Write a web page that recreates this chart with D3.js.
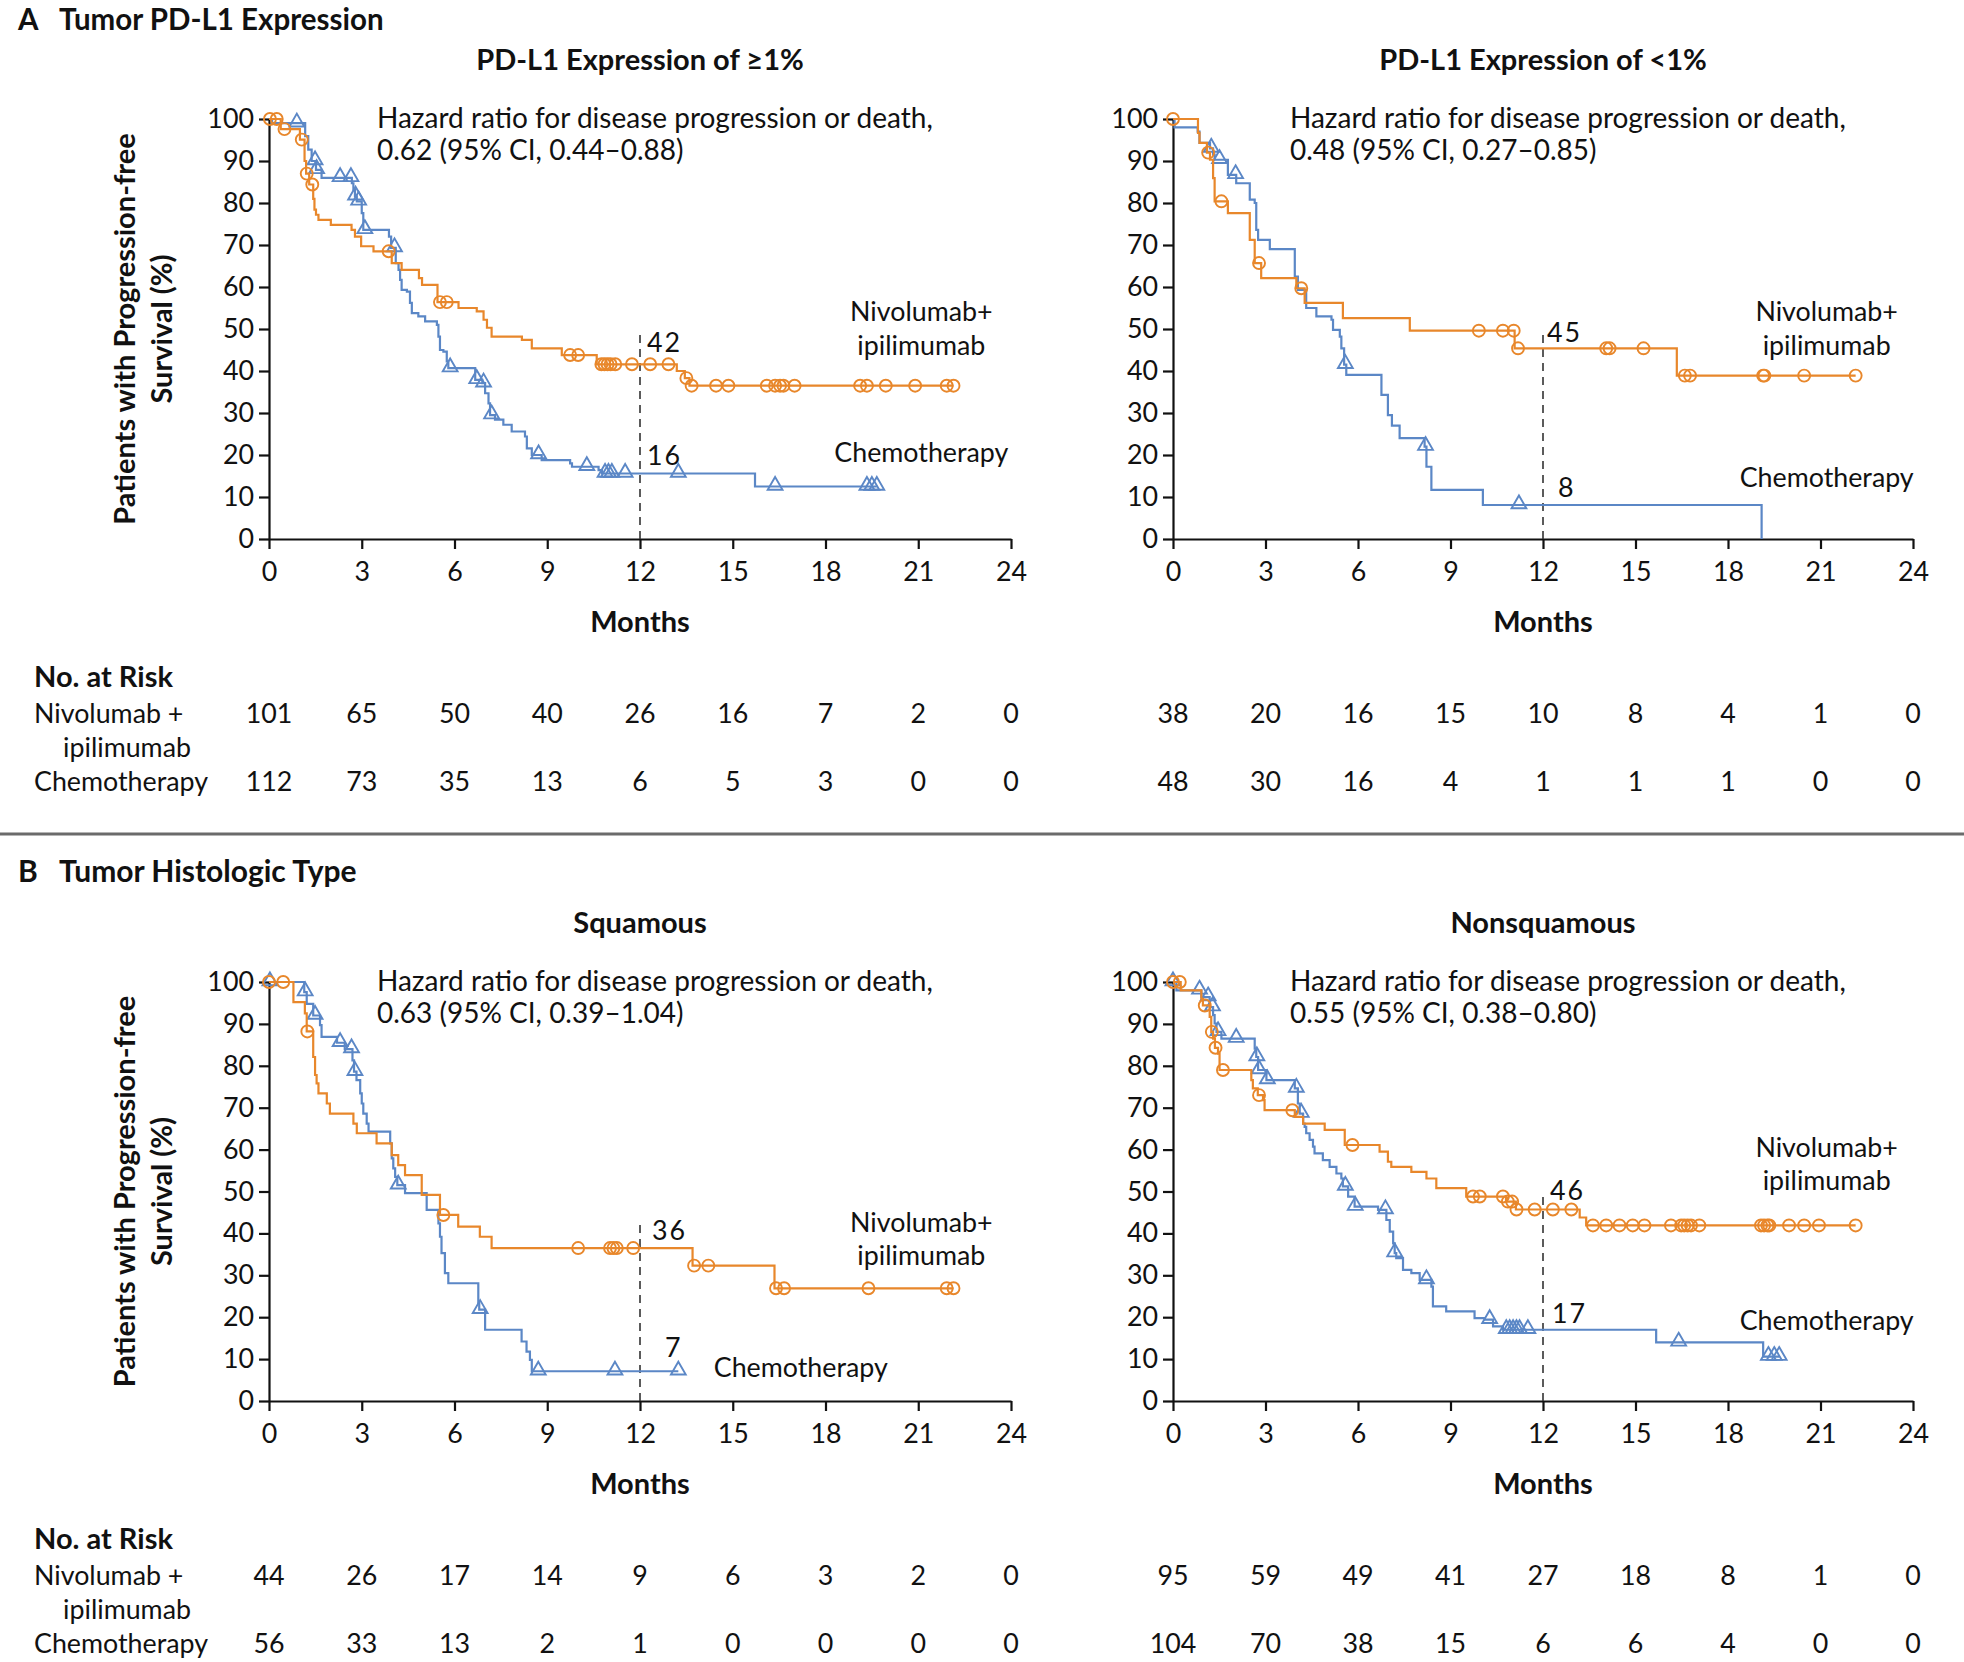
<!DOCTYPE html>
<html><head><meta charset="utf-8">
<script src="https://cdn.jsdelivr.net/npm/d3@7"></script>
<style>
body{margin:0;background:#fff}
text{font-family:Lato,'Open Sans',sans-serif;fill:#111}
</style>
</head><body>
<svg id="c" width="1964" height="1662"></svg>
<script>
// ---------------- DATA ----------------
const monthTicks = [0,3,6,9,12,15,18,21,24];
const pctTicks = [0,10,20,30,40,50,60,70,80,90,100];
const sectionTitles = ["Tumor PD-L1 Expression","Tumor Histologic Type"];
const sectionLetters = ["A","B"];
const panelTitles = ["PD-L1 Expression of \u22651%","PD-L1 Expression of <1%","Squamous","Nonsquamous"];
const hazardLine1 = "Hazard ratio for disease progression or death,";
const hazardValues = ["0.62 (95% CI, 0.44\u20130.88)","0.48 (95% CI, 0.27\u20130.85)","0.63 (95% CI, 0.39\u20131.04)","0.55 (95% CI, 0.38\u20130.80)"];
const labels12Nivo = ["42","45","36","46"];
const labels12Chemo = ["16","8","7","17"];

// PD-L1 >=1%
const pdl1Pos_nivoSteps = [[0.38,97.6],[1.0,95.1],[1.15,90],[1.2,87],[1.3,84.4],[1.43,81],[1.47,78.4],[1.52,77.2],[1.6,76],[2.0,74.8],[2.67,73.6],[2.78,72],[2.98,69.7],[3.38,68.5],[3.97,65.7],[4.29,64.1],[4.85,62.1],[4.95,60.5],[5.45,56.4],[6.13,55],[6.72,54.2],[6.94,52.2],[7.05,50.3],[7.2,48.2],[8.18,47.4],[8.5,45.4],[9.47,43.8],[10.6,41.6],[13.19,40],[13.45,38.3],[13.6,36.5]];
const pdl1Pos_nivoCensor = [0.03,0.25,0.5,1.06,1.22,1.4,3.87,5.53,5.75,9.74,10.0,10.75,10.85,10.95,11.05,11.2,11.74,12.33,12.92,13.5,13.67,14.46,14.86,16.1,16.37,16.53,16.64,17.0,19.12,19.34,19.95,20.9,21.92,22.14];
const pdl1Pos_chemoSteps = [[0.1,99],[1.17,95.9],[1.27,92.7],[1.38,90],[1.52,87.9],[1.7,86],[2.68,84.7],[2.73,83.2],[2.78,81.6],[2.84,80.4],[3.0,77.6],[3.05,73.6],[3.88,72],[3.95,69.3],[4.1,65.7],[4.19,64.1],[4.24,61.7],[4.29,59.3],[4.46,58.9],[4.56,56.2],[4.62,53.8],[4.83,53],[5.05,51.8],[5.43,51],[5.48,48.2],[5.53,45],[5.64,44.6],[5.75,42.3],[5.8,40.7],[6.67,37.9],[6.9,37.1],[6.99,34.7],[7.1,32.3],[7.15,29.5],[7.31,28.4],[7.58,27.2],[7.85,25.6],[8.28,24.4],[8.34,21.6],[8.5,20],[8.82,18.8],[9.74,18],[9.8,17.2],[10.66,16.4],[10.77,15.6],[15.72,12.5]];
const pdl1Pos_chemoCensor = [0.9,1.49,1.54,2.3,2.65,2.8,2.9,3.1,4.06,5.86,6.72,6.94,7.2,8.72,10.28,10.87,10.98,11.09,11.52,13.24,16.37,19.34,19.5,19.66];
const pdl1Pos_riskNivo = [101,65,50,40,26,16,7,2,0];
const pdl1Pos_riskChemo = [112,73,35,13,6,5,3,0,0];

// PD-L1 <1%
const pdl1Neg_nivoSteps = [[0.81,96.7],[0.86,94.3],[1.1,92],[1.2,90.3],[1.3,85.9],[1.35,80.4],[1.78,77.6],[2.49,71.2],[2.65,65.7],[2.86,62.1],[4.0,59.7],[4.27,56.2],[5.51,52.6],[7.68,49.6],[11.08,45.4],[16.34,38.9]];
const pdl1Neg_nivoCensor = [0,1.14,1.57,2.79,4.16,9.92,10.7,11.05,11.19,14.05,14.16,15.26,16.6,16.77,19.14,19.18,20.47,22.14];
const pdl1Neg_chemoSteps = [[0.05,98],[0.8,97],[0.86,94.3],[1.2,93],[1.3,91.5],[1.35,90.3],[1.78,86.7],[2.05,84.7],[2.49,80.8],[2.65,80],[2.7,73.6],[2.76,71.2],[3.14,69],[3.95,62.5],[4.05,59.3],[4.32,55],[4.65,53],[5.14,52.2],[5.19,49.8],[5.41,48.2],[5.46,45.4],[5.55,41.5],[5.62,39.1],[6.76,34.3],[6.97,29.5],[7.1,27],[7.35,24],[8.16,22],[8.22,17.2],[8.38,11.7],[10.05,8.1],[19.09,0]];
const pdl1Neg_chemoCensor = [1.24,1.51,2.03,5.59,8.19,11.22];
const pdl1Neg_riskNivo = [38,20,16,15,10,8,4,1,0];
const pdl1Neg_riskChemo = [48,30,16,4,1,1,1,0,0];

// Squamous
const squam_nivoSteps = [[0.79,95.2],[1.16,92.5],[1.22,88.2],[1.43,82.1],[1.49,77.8],[1.54,75.8],[1.6,73.4],[1.87,71],[1.97,68.6],[2.73,66.2],[2.84,63.9],[3.48,61.5],[3.97,58.7],[4.18,56.3],[4.4,53.9],[4.94,49.2],[5.53,44.4],[6.12,41.6],[6.82,39.2],[7.2,36.5],[13.7,32.3],[16.35,26.9]];
const squam_nivoCensor = [0,0.46,1.24,5.64,10.0,11.03,11.14,11.25,11.78,13.75,14.21,16.4,16.66,19.39,21.92,22.14];
const squam_chemoSteps = [[1.14,97.6],[1.22,94.8],[1.43,92],[1.65,89.7],[1.7,86.9],[2.2,85.5],[2.45,84],[2.7,81.3],[2.75,78.6],[2.83,76.6],[2.95,73.4],[3.0,71],[3.05,68.6],[3.16,66.2],[3.22,64.3],[3.92,61.5],[3.97,57.9],[4.02,55.5],[4.08,53.5],[4.15,51.5],[4.4,49.6],[5.1,45.6],[5.48,42.4],[5.53,39.2],[5.58,35.3],[5.69,30.5],[5.8,28.1],[6.77,23.4],[6.8,21.8],[6.99,17],[8.17,14.2],[8.33,11.8],[8.44,9.8],[8.5,7.1]];
const squam_chemoCensor = [0.03,1.17,1.49,2.3,2.67,2.78,4.18,6.83,8.71,11.19,13.24];
const squam_riskNivo = [44,26,17,14,9,6,3,2,0];
const squam_riskChemo = [56,33,13,2,1,0,0,0,0];

// Nonsquamous
const nonsq_nivoSteps = [[0.25,98],[0.92,96],[0.97,94.4],[1.19,91.7],[1.24,88.1],[1.3,86.5],[1.36,84.3],[1.46,82.9],[1.51,79],[2.54,76.6],[2.59,74.6],[2.75,73],[2.92,71.8],[2.97,69.4],[3.95,67.8],[4.22,66.2],[4.92,64.7],[5.57,61.1],[6.7,59.5],[6.97,57.1],[7.08,55.9],[7.73,54.7],[8.22,53.1],[8.54,50.8],[9.51,48.8],[10.8,47.6],[11.12,45.7],[13.19,43.8],[13.4,41.9]];
const nonsq_nivoCensor = [0,0.22,1.03,1.26,1.38,1.62,2.79,3.87,5.82,9.73,9.95,10.7,10.86,11.0,11.14,11.73,12.32,12.92,13.62,14.05,14.48,14.91,15.29,16.15,16.48,16.58,16.69,16.8,17.07,19.07,19.17,19.28,19.34,19.98,20.47,20.95,22.14];
const nonsq_chemoSteps = [[0.11,98],[0.92,96.4],[1.19,94],[1.3,92.1],[1.35,90.1],[1.41,88.1],[1.57,86.5],[2.65,84.1],[2.7,82.1],[2.76,79],[3.03,76.6],[3.95,74.6],[4.05,71],[4.11,68.6],[4.22,66.2],[4.27,65.4],[4.32,63.9],[4.43,62.3],[4.54,60.7],[4.59,59.1],[4.86,57.5],[5.08,55.9],[5.3,54.3],[5.46,53.1],[5.51,51.2],[5.68,48.8],[5.89,46.4],[6.65,45.6],[6.92,43.2],[7.03,40.4],[7.14,37.6],[7.19,35.3],[7.24,34.1],[7.46,31.3],[7.73,30.5],[8.0,28.9],[8.38,27.3],[8.43,22.6],[8.86,21.4],[9.78,19.8],[10.11,19.4],[10.38,17.8],[10.7,17],[15.67,14],[19.14,10.6]];
const nonsq_chemoCensor = [0,0.86,1.14,1.28,1.46,2.05,2.72,2.79,3.06,4.0,4.16,5.59,5.91,6.89,7.19,8.22,10.27,10.81,10.92,11.03,11.14,11.24,11.51,16.4,19.31,19.5,19.66];
const nonsq_riskNivo = [95,59,49,41,27,18,8,1,0];
const nonsq_riskChemo = [104,70,38,15,6,6,4,0,0];

// --------------- LAYOUT ----------------
const ORANGE = "#e8872b", BLUE = "#5b87c6";
const FS = 26.8, FSB = 29, FSH = 28;
const panels = [
  {x0:269, x1:1011, yTop:119, yBot:539, left:true, hx:108,
   nivo:[pdl1Pos_nivoSteps,pdl1Pos_nivoCensor], chemo:[pdl1Pos_chemoSteps,pdl1Pos_chemoCensor],
   risk:[pdl1Pos_riskNivo,pdl1Pos_riskChemo], dashTop:50,
   l12:[[7,44.6],[7,17.7]], nivoLab:[21.1,51.8,43.9], chemoLab:[21.1,18.4]},
  {x0:1173, x1:1913, yTop:119, yBot:539, left:false, hx:117,
   nivo:[pdl1Neg_nivoSteps,pdl1Neg_nivoCensor], chemo:[pdl1Neg_chemoSteps,pdl1Neg_chemoCensor],
   risk:[pdl1Neg_riskNivo,pdl1Neg_riskChemo], dashTop:50,
   l12:[[4,47],[15,10]], nivoLab:[21.2,51.8,43.9], chemoLab:[21.2,12.4]},
  {x0:269, x1:1011, yTop:982, yBot:1401, left:true, hx:108,
   nivo:[squam_nivoSteps,squam_nivoCensor], chemo:[squam_chemoSteps,squam_chemoCensor],
   risk:[squam_riskNivo,squam_riskChemo], dashTop:42,
   l12:[[12,38.4],[25,10.5]], nivoLab:[21.1,40.3,32.5], chemoLab:[17.2,5.7]},
  {x0:1173, x1:1913, yTop:982, yBot:1401, left:false, hx:117,
   nivo:[nonsq_nivoSteps,nonsq_nivoCensor], chemo:[nonsq_chemoSteps,nonsq_chemoCensor],
   risk:[nonsq_riskNivo,nonsq_riskChemo], dashTop:50,
   l12:[[7,48],[9,18.6]], nivoLab:[21.2,58.2,50.4], chemoLab:[21.2,16.9]}
];
const headerBaselines = [30, 882];
const headerSizes = [29.5, 30];

const svg = d3.select("#c");

// section headers
sectionTitles.forEach((t,i)=>{
  svg.append("text").attr("x",18).attr("y",headerBaselines[i]).attr("font-size",headerSizes[i]).attr("font-weight",700).text(sectionLetters[i]);
  svg.append("text").attr("x",59).attr("y",headerBaselines[i]).attr("font-size",headerSizes[i]).attr("font-weight",700).text(t);
});
svg.append("line").attr("x1",0).attr("x2",1964).attr("y1",834).attr("y2",834)
  .attr("stroke","#6b6b6b").attr("stroke-width",3);

function stepValue(steps,t){let v=100;for(const [st,s] of steps){if(st<=t+1e-9)v=s;else break;}return v;}

panels.forEach((p,pi)=>{
  const g = svg.append("g");
  const x = d3.scaleLinear().domain([0,24]).range([p.x0,p.x1]);
  const y = d3.scaleLinear().domain([0,100]).range([p.yBot,p.yTop]);

  // axes
  const gx = g.append("g").attr("transform",`translate(0,${p.yBot})`)
    .call(d3.axisBottom(x).tickValues(monthTicks).tickSize(10).tickSizeOuter(0).tickPadding(13));
  const gy = g.append("g").attr("transform",`translate(${p.x0},0)`)
    .call(d3.axisLeft(y).tickValues(pctTicks).tickSize(10).tickSizeOuter(0).tickPadding(5));
  [gx,gy].forEach(a=>{
    a.attr("font-family",null).attr("font-size",null);
    a.selectAll("path,line").attr("stroke","#111").attr("stroke-width",2.2);
    a.selectAll("text").attr("font-size",FS).attr("fill","#111");
  });

  // title
  g.append("text").attr("x",x(12)).attr("y",p.yTop-49).attr("text-anchor","middle")
    .attr("font-size",FSB).attr("font-weight",700).text(panelTitles[pi]);
  // hazard
  g.append("text").attr("x",p.x0+p.hx).attr("y",p.yTop+9).attr("font-size",FSH).text(hazardLine1);
  g.append("text").attr("x",p.x0+p.hx).attr("y",p.yTop+41).attr("font-size",FSH).text(hazardValues[pi]);
  // months
  g.append("text").attr("x",x(12)).attr("y",p.yBot+93).attr("text-anchor","middle")
    .attr("font-size",FSB).attr("font-weight",700).text("Months");

  // dashed 12-month line
  g.append("line").attr("x1",x(12)).attr("x2",x(12)).attr("y1",y(0)).attr("y2",y(p.dashTop))
    .attr("stroke","#333").attr("stroke-width",1.6).attr("stroke-dasharray","8,6");

  // curves
  const line = d3.line().x(d=>x(d[0])).y(d=>y(d[1])).curve(d3.curveStepAfter);
  [[p.chemo,BLUE,"tri"],[p.nivo,ORANGE,"circ"]].forEach(([arm,col,shape])=>{
    const [steps,cens] = arm;
    const end = Math.max(steps[steps.length-1][0], d3.max(cens));
    const pts = [[0,100],...steps,[end,stepValue(steps,end)]];
    g.append("path").datum(pts).attr("d",line).attr("fill","none").attr("stroke",col).attr("stroke-width",2.2);
    if(shape==="circ"){
      g.selectAll(null).data(cens).join("circle")
        .attr("cx",d=>x(d)).attr("cy",d=>y(stepValue(steps,d))).attr("r",6)
        .attr("fill","none").attr("stroke",col).attr("stroke-width",1.9);
    } else {
      const sym = d3.symbol().type(d3.symbolTriangle).size(95);
      g.selectAll(null).data(cens).join("path")
        .attr("d",sym).attr("transform",d=>`translate(${x(d)},${y(stepValue(steps,d))-1})`)
        .attr("fill","none").attr("stroke",col).attr("stroke-width",1.9);
    }
  });

  // 12-month labels
  [labels12Nivo[pi],labels12Chemo[pi]].forEach((t,i)=>{
    g.append("text").attr("x",x(12)+p.l12[i][0]).attr("y",y(p.l12[i][1]))
      .attr("font-size",FS).attr("letter-spacing",2).text(t);
  });
  // group labels
  g.append("text").attr("x",x(p.nivoLab[0])).attr("y",y(p.nivoLab[1])).attr("text-anchor","middle").attr("font-size",FS).text("Nivolumab+");
  g.append("text").attr("x",x(p.nivoLab[0])).attr("y",y(p.nivoLab[2])).attr("text-anchor","middle").attr("font-size",FS).text("ipilimumab");
  g.append("text").attr("x",x(p.chemoLab[0])).attr("y",y(p.chemoLab[1])).attr("text-anchor","middle").attr("font-size",FS).text("Chemotherapy");

  // y label
  if(p.left){
    const cy = (p.yTop+p.yBot)/2;
    g.append("text").attr("transform",`translate(135,${cy}) rotate(-90)`).attr("text-anchor","middle")
      .attr("font-size",FSB).attr("font-weight",700).text("Patients with Progression-free");
    g.append("text").attr("transform",`translate(172,${cy}) rotate(-90)`).attr("text-anchor","middle")
      .attr("font-size",FSB).attr("font-weight",700).text("Survival (%)");
    g.append("text").attr("x",34).attr("y",p.yBot+148).attr("font-size",FSB).attr("font-weight",700).text("No. at Risk");
    g.append("text").attr("x",34).attr("y",p.yBot+184).attr("font-size",FS).text("Nivolumab +");
    g.append("text").attr("x",63).attr("y",p.yBot+218).attr("font-size",FS).text("ipilimumab");
    g.append("text").attr("x",34).attr("y",p.yBot+252).attr("font-size",FS).text("Chemotherapy");
  }
  // at risk numbers
  [[p.risk[0],184],[p.risk[1],252]].forEach(([vals,dy])=>{
    g.selectAll(null).data(vals).join("text")
      .attr("x",(d,i)=>x(monthTicks[i])).attr("y",p.yBot+dy).attr("text-anchor","middle")
      .attr("font-size",FS).text(d=>d);
  });
});
</script>
</body></html>
